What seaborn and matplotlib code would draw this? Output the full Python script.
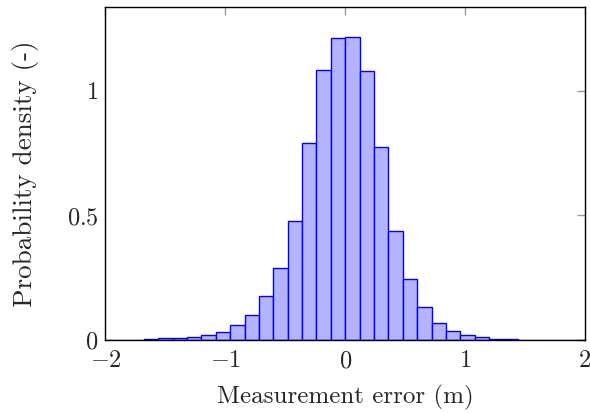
import numpy as np
import pandas as pd
import matplotlib
matplotlib.use("Agg")
import matplotlib.pyplot as plt
import seaborn as sns

# Histogram bin edges (width 0.12) and densities
bin_edges = [-2.04, -1.92, -1.80, -1.68, -1.56, -1.44, -1.32, -1.20, -1.08, -0.96,
             -0.84, -0.72, -0.60, -0.48, -0.36, -0.24, -0.12, 0.0, 0.12, 0.24,
             0.36, 0.48, 0.60, 0.72, 0.84, 0.96, 1.08, 1.20, 1.32, 1.44, 1.56,
             1.68, 1.80, 1.92, 2.04]
density = [0.003, 0.003, 0.003, 0.004, 0.008, 0.008, 0.012, 0.020, 0.035, 0.060,
           0.100, 0.176, 0.288, 0.478, 0.792, 1.084, 1.212,
           1.214, 1.079, 0.776, 0.437, 0.244, 0.135, 0.069, 0.036, 0.020,
           0.012, 0.007, 0.004, 0.003, 0.002, 0.002, 0.001, 0.001]
x_ticks = [-2, -1, 0, 1, 2]
x_ticklabels = [r"$-2$", r"$-1$", r"$0$", r"$1$", r"$2$"]
y_ticks = [0, 0.5, 1]
y_ticklabels = [r"$0$", r"$0.5$", r"$1$"]

centers = [(bin_edges[i] + bin_edges[i + 1]) / 2 for i in range(len(density))]
df = pd.DataFrame({"error": centers, "w": density})

sns.set_style("white")
plt.rcParams["font.family"] = ["cmr10"]
plt.rcParams["mathtext.fontset"] = "cm"
plt.rcParams["axes.unicode_minus"] = False

fig = plt.figure(figsize=(5.9, 4.13), dpi=100)
ax = fig.add_axes([0.1788, 0.176, 0.9915 - 0.1788, 0.9823 - 0.176])

sns.histplot(data=df, x="error", weights="w", bins=bin_edges, stat="count",
             color=(0.7, 0.7, 1.0), alpha=1.0, edgecolor="#0000ff",
             linewidth=1.0, ax=ax)

ax.set_xlim(-2, 2)
ax.set_ylim(0, 1.334)
ax.set_xticks(x_ticks)
ax.set_xticklabels(x_ticklabels)
ax.set_yticks(y_ticks)
ax.set_yticklabels(y_ticklabels)
ax.tick_params(direction="in", length=6, width=1.0, color="#999999",
               top=True, right=True, labelsize=17.5, pad=5)
ax.tick_params(axis="x", pad=7)
ax.set_xlabel("Measurement error (m)", fontsize=18, labelpad=9)
ax.set_ylabel("Probability density (-)", fontsize=19.5, labelpad=20)
for s in ax.spines.values():
    s.set_color("black")
    s.set_linewidth(1.0)
    s.set_visible(True)
    s.set_zorder(5)

fig.savefig("out.png", dpi=100)
